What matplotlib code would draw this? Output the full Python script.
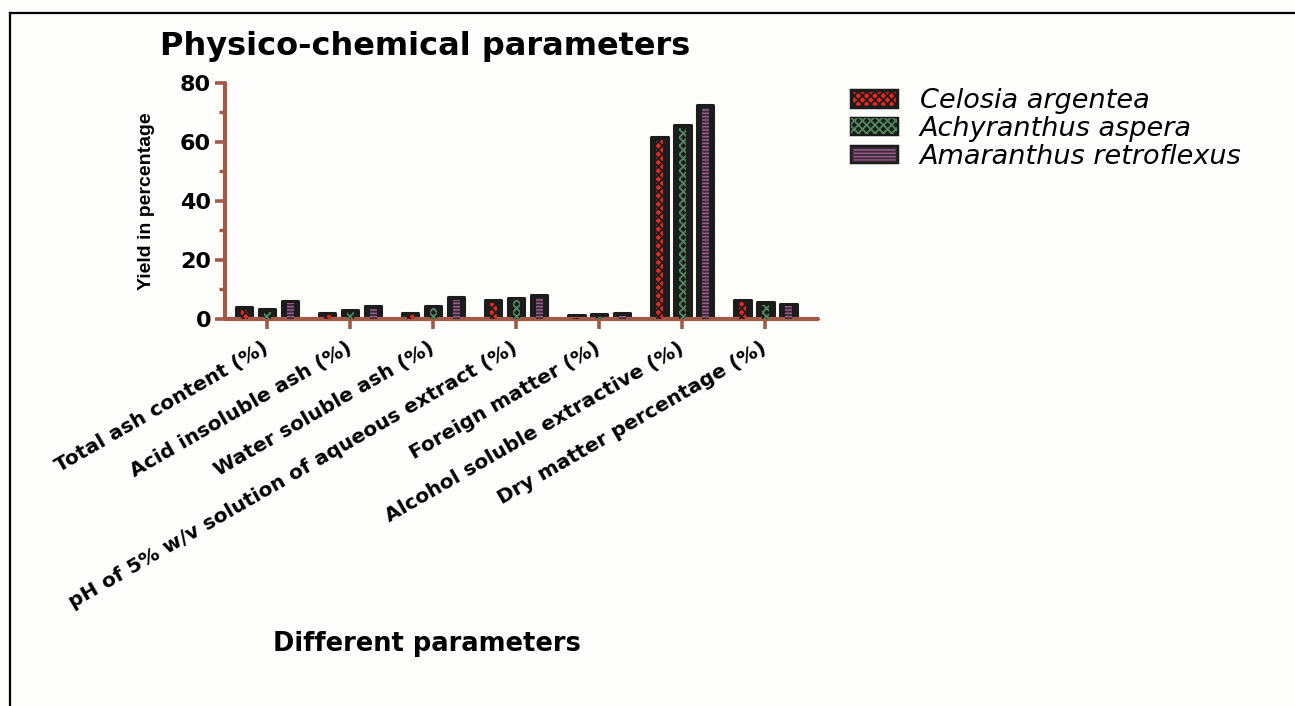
import matplotlib
matplotlib.use("Agg")
import matplotlib.pyplot as plt
import numpy as np
from matplotlib.patches import Patch
from matplotlib.lines import Line2D
from matplotlib.legend_handler import HandlerTuple
from matplotlib.ticker import MultipleLocator

# ---- data ----
categories = [
    "Total ash content (%)",
    "Acid insoluble ash (%)",
    "Water soluble ash (%)",
    "pH of 5% w/v solution of aqueous extract (%)",
    "Foreign matter (%)",
    "Alcohol soluble extractive (%)",
    "Dry matter percentage (%)",
]
species = ["Celosia argentea", "Achyranthus aspera", "Amaranthus retroflexus"]
celosia = [4.1, 2.1, 2.1, 6.4, 1.3, 61.6, 6.5]
achyranthus = [3.3, 3.2, 4.5, 7.2, 1.7, 65.6, 5.6]
amaranthus = [6.2, 4.3, 7.5, 8.0, 2.0, 72.5, 5.2]
series = [celosia, achyranthus, amaranthus]
yticks = [0, 20, 40, 60, 80]

# ---- styles ----
fill_colors = ["#E8281E", "#1c1c1c", "#9A5C8C"]
hatch_colors = ["#1c1c1c", "#4E8A5E", "#3a2a36"]
hatches = ["xxxx", "xxxx", "-----"]
axis_col = "#A25A48"
W, H = 1295, 706

plt.rcParams["hatch.linewidth"] = 1.3

fig = plt.figure(figsize=(W / 100, H / 100), dpi=100)
fig.patch.set_facecolor("#FDFDFB")
ax = fig.add_axes([225 / W, 1 - 319 / H, (818 - 225) / W, (319 - 82.7) / H])
ax.set_facecolor("none")

x = np.arange(len(categories))
offsets = [-0.277, 0.0, 0.277]
bw = 0.2
for vals, off, fc, hc, hp in zip(series, offsets, fill_colors, hatch_colors, hatches):
    v = np.array(vals)
    ax.bar(x + off, v, width=bw, color="#1c1c1c", edgecolor="#1c1c1c",
           linewidth=2.2, joinstyle="round", zorder=2)
    ax.bar(x + off, np.maximum(v - 0.9, 0), width=0.085, color=fc,
           edgecolor=hc, linewidth=0, hatch=hp, zorder=3)

ax.set_xlim(-0.508, 6.636)
ax.set_ylim(0, 80)
ax.set_yticks(yticks)
ax.yaxis.set_minor_locator(MultipleLocator(10))
ax.set_xticks(x)
ax.set_xticklabels(categories, rotation=30, ha="right", va="center",
                   rotation_mode="anchor", fontsize=14.5, fontweight="bold",
                   family="DejaVu Sans")
for lab in ax.get_yticklabels():
    lab.set_fontweight("bold")
    lab.set_fontsize(16)

for s in ["top", "right"]:
    ax.spines[s].set_visible(False)
for s in ["left", "bottom"]:
    ax.spines[s].set_color(axis_col)
    ax.spines[s].set_linewidth(3)
    ax.spines[s].set_capstyle("round")
ax.tick_params(axis="both", which="major", color=axis_col, width=2.6, length=7)
ax.tick_params(axis="y", which="minor", color=axis_col, width=2.4, length=4)
ax.tick_params(axis="x", pad=13)
ax.tick_params(axis="y", pad=3)

ax.set_ylabel("Yield in percentage", fontsize=14, fontweight="bold",
              family="Liberation Sans", labelpad=18)

fig.text(160 / W, 1 - 46 / H, "Physico-chemical parameters", ha="left", va="center",
         fontsize=23, fontweight="bold", family="DejaVu Sans")
fig.text(427 / W, 1 - 644 / H, "Different parameters", ha="center", va="center",
         fontsize=18.5, fontweight="bold", family="DejaVu Sans")

handles = [(Patch(facecolor=fc, edgecolor="#1c1c1c", linewidth=2.5),
            Patch(facecolor="none", edgecolor=hc, linewidth=0, hatch=hp))
           for fc, hc, hp in zip(fill_colors, hatch_colors, hatches)]
leg = fig.legend(handles, species, loc="upper left",
                 handler_map={tuple: HandlerTuple(ndivide=1, pad=0)},
                 bbox_to_anchor=(851 / W, 1 - 88 / H), frameon=False,
                 prop={"style": "italic", "size": 19.5, "family": "DejaVu Sans"},
                 handlelength=1.7, handleheight=0.55, labelspacing=0.07,
                 handletextpad=0.84, borderaxespad=0, borderpad=0)

# frame lines
fig.add_artist(Line2D([10 / W, 10 / W], [0, 1 - 13 / H], color="black", lw=1.6,
                      transform=fig.transFigure))
fig.add_artist(Line2D([10 / W, 1], [1 - 13 / H, 1 - 13 / H], color="black", lw=1.6,
                      transform=fig.transFigure))

fig.savefig("out.png", dpi=100, facecolor=fig.get_facecolor())
